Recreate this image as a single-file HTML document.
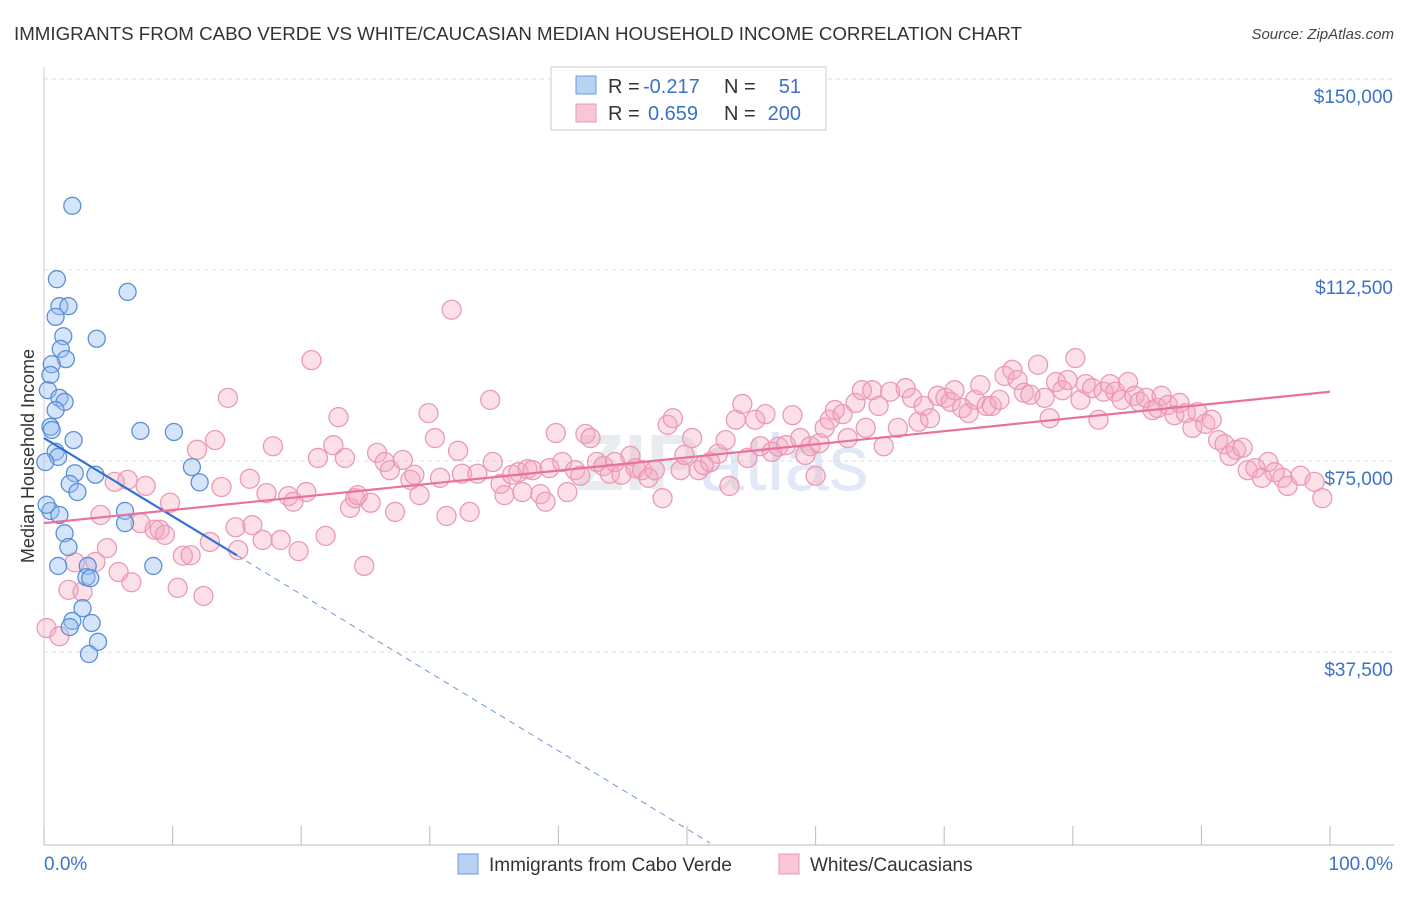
<!DOCTYPE html>
<html><head><meta charset="utf-8"><style>
body{margin:0;background:#fff;font-family:"Liberation Sans",sans-serif;}
svg text{font-family:"Liberation Sans",sans-serif;}
</style></head><body>
<svg width="1406" height="892" viewBox="0 0 1406 892" xmlns="http://www.w3.org/2000/svg" id="chart">
<text x="14" y="40" font-size="18" fill="#333" textLength="1008" lengthAdjust="spacingAndGlyphs">IMMIGRANTS FROM CABO VERDE VS WHITE/CAUCASIAN MEDIAN HOUSEHOLD INCOME CORRELATION CHART</text>
<text x="1394" y="39" font-size="15" fill="#444" font-style="italic" text-anchor="end">Source: ZipAtlas.com</text>
<text x="722" y="490" font-size="80" fill="#e8ecf1" text-anchor="middle" font-weight="bold">ZIP<tspan fill="#e0e9f5" font-weight="normal">atlas</tspan></text>
<g id="grid"></g>
<g id="axes"></g>
<g id="pink"></g>
<g id="blue"></g>
<g id="lines"></g>
<text transform="translate(34,456) rotate(-90)" font-size="18" fill="#333" text-anchor="middle">Median Household Income</text>
<g>
<rect x="551" y="67" width="275" height="63" fill="#fff" stroke="#ccc"/>
<rect x="576" y="76" width="20" height="18" fill="#b7d2f3" stroke="#6c9be0"/>
<rect x="576" y="104" width="20" height="18" fill="#f8c6d5" stroke="#e99ab4"/>
<text x="608" y="93" font-size="20" fill="#333">R =</text>
<text x="643" y="93" font-size="20" fill="#3b72c8">-0.217</text>
<text x="724" y="93" font-size="20" fill="#333">N =</text>
<text x="801" y="93" font-size="20" fill="#3b72c8" text-anchor="end">51</text>
<text x="608" y="120" font-size="20" fill="#333">R =</text>
<text x="648" y="120" font-size="20" fill="#3b72c8">0.659</text>
<text x="724" y="120" font-size="20" fill="#333">N =</text>
<text x="801" y="120" font-size="20" fill="#3b72c8" text-anchor="end">200</text>
</g>
<g>
<rect x="458" y="854" width="20" height="20" fill="#b7d2f3" stroke="#6c9be0"/>
<text x="489" y="871" font-size="19" fill="#333">Immigrants from Cabo Verde</text>
<rect x="779" y="854" width="20" height="20" fill="#f8c6d5" stroke="#e99ab4"/>
<text x="810" y="871" font-size="19" fill="#333">Whites/Caucasians</text>
</g>
</svg>
<script>
const yTicks=[37500,75000,112500,150000];
const yTickLabels=["$37,500","$75,000","$112,500","$150,000"];
const xTickLabels=["0.0%","100.0%"];
const blueX=[2.2,1.0,6.5,1.2,1.9,0.9,1.5,4.1,1.3,1.7,0.6,0.5,0.3,1.2,1.6,0.9,0.5,0.6,7.5,10.1,2.3,0.9,1.1,0.1,11.5,4.0,2.4,12.1,2.0,2.6,0.5,1.2,6.3,6.3,1.6,1.9,1.1,3.4,8.5,3.3,3.6,3.0,2.2,3.7,2.0,4.2,3.5,0.2];
const blueY=[125.1,110.7,108.2,105.4,105.4,103.3,99.5,99.0,97.0,95.0,94.0,91.9,88.9,87.4,86.6,85.0,81.7,81.1,80.9,80.7,79.1,76.8,75.8,74.8,73.8,72.3,72.6,70.8,70.5,68.9,65.2,64.4,65.2,62.8,60.8,58.1,54.4,54.4,54.4,52.2,52.0,46.1,43.6,43.2,42.4,39.5,37.1,66.4];
const pinkX=[0.2,1.2,2.4,1.9,3.0,4.4,4.9,4.0,5.5,5.8,6.5,6.8,7.5,7.9,8.6,9.0,9.4,9.8,10.4,10.8,11.4,11.9,12.4,12.9,13.3,13.8,14.3,14.9,15.1,16.0,16.2,17.0,17.3,17.8,18.4,19.0,19.4,19.8,20.4,20.8,21.3,21.9,22.5,22.9,23.4,23.8,24.2,24.4,24.9,25.4,25.9,26.5,26.9,27.3,27.9,28.5,28.8,29.2,29.9,30.4,30.8,31.3,31.7,32.2,32.5,33.1,33.7,34.7,34.9,35.5,35.8,36.4,36.9,37.2,37.6,38.0,38.6,39.0,39.3,39.8,40.3,40.7,41.3,41.7,42.1,42.5,43.0,43.5,44.0,44.4,44.9,45.6,46.0,46.5,47.0,47.5,48.1,48.5,48.9,49.5,49.8,50.4,50.9,51.3,51.8,52.4,53.0,53.3,53.8,54.3,54.7,55.3,55.7,56.1,56.6,57.1,57.7,58.2,58.8,59.2,59.6,60.0,60.3,60.7,61.1,61.5,62.1,62.5,63.1,63.6,63.9,64.4,64.9,65.3,65.8,66.4,67.0,67.5,68.0,68.4,68.9,69.5,70.1,70.5,70.8,71.4,71.9,72.4,72.8,73.3,73.7,74.3,74.7,75.3,75.7,76.2,76.7,77.3,77.8,78.2,78.7,79.2,79.6,80.2,80.6,81.0,81.5,82.0,82.4,82.9,83.3,83.8,84.3,84.8,85.2,85.7,86.2,86.6,86.9,87.4,87.9,88.3,88.8,89.3,89.7,90.3,90.8,91.3,91.8,92.2,92.7,93.2,93.6,94.2,94.7,95.2,95.7,96.3,96.7,97.7,98.8,99.4];
const pinkY=[42.2,40.6,55.1,49.7,49.3,64.4,57.9,55.2,70.9,53.2,71.3,51.2,62.8,70.1,61.5,61.5,60.5,66.8,50.1,56.4,56.5,77.2,48.5,59.1,79.1,69.9,87.4,62.0,57.5,71.5,62.4,59.5,68.7,77.9,59.5,68.1,67.0,57.3,68.9,94.8,75.6,60.3,78.1,83.6,75.6,65.8,67.7,68.3,54.4,66.8,76.6,74.8,73.2,65.0,75.2,71.3,72.3,68.3,84.4,79.5,71.7,64.2,104.7,77.0,72.5,65.0,72.5,87.0,74.8,70.5,68.3,72.3,72.8,68.9,73.4,73.2,68.5,67.0,73.6,80.5,74.8,68.9,73.2,72.1,80.3,79.5,74.8,74.0,72.5,74.8,72.3,76.0,73.6,73.2,71.7,73.2,67.7,82.1,83.4,73.2,76.2,79.5,73.2,74.2,74.8,76.4,79.1,70.1,83.1,86.2,75.6,83.1,77.9,84.2,76.8,77.8,78.1,84.0,79.5,76.2,77.9,72.1,78.5,81.5,83.1,85.0,84.2,79.5,86.4,88.9,81.5,88.9,85.8,77.9,88.6,81.5,89.3,87.4,82.7,85.8,83.4,87.8,87.4,86.6,88.9,85.4,84.4,87.0,89.9,85.8,85.8,87.0,91.7,92.9,90.9,88.4,88.0,93.9,87.4,83.4,90.5,88.9,90.9,95.2,87.0,90.1,89.3,83.1,88.6,90.1,88.6,87.0,90.5,87.8,86.6,87.4,85.0,85.4,87.8,86.0,84.0,86.4,84.4,81.5,84.6,82.3,83.1,79.1,78.3,76.0,77.2,77.6,73.2,73.6,71.7,74.8,72.8,71.7,70.1,72.1,70.9,67.7];
const blueTrend=[79.5,-1.535];   // intercept (k$), slope per %
const pinkTrend=[62.8,0.258];

const NS="http://www.w3.org/2000/svg";
const X0=44,X1=1330,YB=843,YT=79;
const sx=p=>X0+(X1-X0)*p/100;
const sy=v=>YB-(YB-YT)*v/150;   // v in thousands
function mk(tag,attrs,parent){const e=document.createElementNS(NS,tag);for(const k in attrs)e.setAttribute(k,attrs[k]);document.getElementById(parent).appendChild(e);return e;}

yTicks.forEach((t,i)=>{
  const y=sy(t/1000);
  const l=mk('line',{x1:X0,x2:1394,y1:y,y2:y,stroke:'#ddd','stroke-dasharray':'4,4'},'grid');
  
  
  const tx=mk('text',{x:1393,y:y+24,'font-size':19,fill:'#3b72c8','text-anchor':'end'},'grid');
  tx.textContent=yTickLabels[i];
  
  
});
const ax=mk('line',{x1:X0,x2:1394,y1:845,y2:845,stroke:'#bbb'},'axes');


const ay=mk('line',{x1:X0,x2:X0,y1:67,y2:845,stroke:'#ccc'},'axes');


for(let i=0;i<=10;i++){
  const t=mk('line',{x1:sx(i*10),x2:sx(i*10),y1:826,y2:845,stroke:'#bbb'},'axes');
  
  
}
[[0,'start',X0],[1,'end',1393]].forEach(([i,a,x])=>{
  const t=mk('text',{x:x,y:870,'font-size':19,fill:'#3b72c8','text-anchor':a},'axes');
  t.textContent=xTickLabels[i];
  
  
});
pinkX.forEach((p,i)=>{
  const c=mk('circle',{cx:sx(p),cy:sy(pinkY[i]),r:9.5,fill:'rgba(243,165,190,0.35)',stroke:'#eb9ab5','stroke-width':1.3},'pink');
  
  
});
blueX.forEach((p,i)=>{
  const c=mk('circle',{cx:sx(p),cy:sy(blueY[i]),r:8.5,fill:'rgba(150,190,240,0.4)',stroke:'#5c8fd8','stroke-width':1.3},'blue');
  
  
});
const bEnd=-blueTrend[0]/blueTrend[1];
const bl1=mk('line',{x1:sx(0),y1:sy(blueTrend[0]),x2:sx(15),y2:sy(blueTrend[0]+blueTrend[1]*15),stroke:'#3372d0','stroke-width':2.2},'lines');


const bl2=mk('line',{x1:sx(15),y1:sy(blueTrend[0]+blueTrend[1]*15),x2:sx(bEnd),y2:sy(0),stroke:'#6d97d6','stroke-width':1,'stroke-dasharray':'6,5'},'lines');


const pl=mk('line',{x1:sx(0),y1:sy(pinkTrend[0]),x2:sx(100),y2:sy(pinkTrend[0]+pinkTrend[1]*100),stroke:'#e8729b','stroke-width':2.2},'lines');


</script>
</body></html>
